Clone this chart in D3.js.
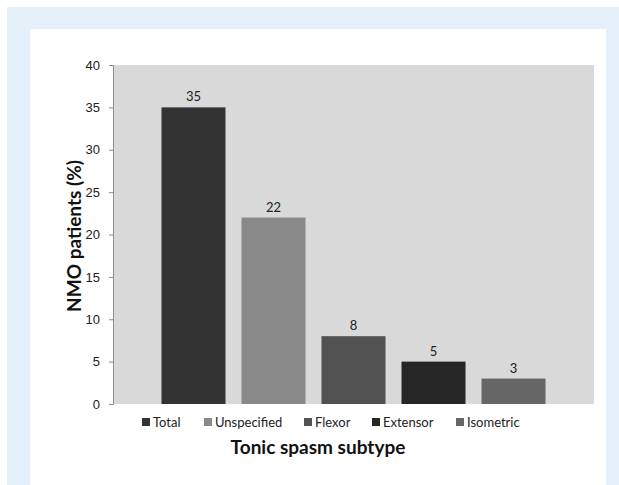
<!DOCTYPE html>
<html>
<head>
<meta charset="utf-8">
<script src="https://cdn.jsdelivr.net/npm/d3@7"></script>
<style>
  body { margin: 0; background: #fff; }
  svg { display: block; font-family: Lato, "Open Sans", sans-serif; }
</style>
</head>
<body>
<div id="chart"></div>
<script>
var svgWidth = 619, svgHeight = 485;

// data
var subtypes = ["Total", "Unspecified", "Flexor", "Extensor", "Isometric"];
var percents = [35, 22, 8, 5, 3];
var barColors = ["#333333", "#898989", "#525252", "#262626", "#666666"];
var yTicks = [0, 5, 10, 15, 20, 25, 30, 35, 40];

var svg = d3.select("#chart")
  .append("svg")
  .attr("width", svgWidth)
  .attr("height", svgHeight);

// light blue frame + white panel
svg.append("rect")
  .attr("x", 7).attr("y", 7)
  .attr("width", svgWidth - 7).attr("height", svgHeight - 7)
  .attr("fill", "#e6f0fa");
svg.append("rect")
  .attr("x", 30).attr("y", 29)
  .attr("width", 576).attr("height", svgHeight - 29)
  .attr("fill", "#ffffff");

var plot = {left: 113, right: 594, top: 65, bottom: 404};

var x = d3.scaleBand()
  .domain(subtypes)
  .range([plot.left, plot.right])
  .paddingInner(0.2)
  .paddingOuter(0.606);

var y = d3.scaleLinear()
  .domain([0, 40])
  .range([plot.bottom, plot.top]);

// plot area background
svg.append("rect")
  .attr("x", plot.left).attr("y", plot.top)
  .attr("width", plot.right - plot.left)
  .attr("height", plot.bottom - plot.top)
  .attr("fill", "#d9d9d9");

// y axis
var yAxis = svg.append("g")
  .attr("transform", "translate(" + plot.left + ",0)")
  .call(d3.axisLeft(y).tickValues(yTicks).tickSize(4).tickPadding(9));
yAxis.select(".domain").attr("stroke", "#8c8c8c");
yAxis.selectAll(".tick line").attr("stroke", "#8c8c8c");
yAxis.selectAll(".tick text")
  .attr("fill", "#222")
  .style("font-size", "13px");

// bars
var groups = svg.selectAll("g.bar")
  .data(subtypes)
  .enter()
  .append("g")
  .attr("class", "bar");

groups.append("rect")
  .attr("x", d => x(d))
  .attr("y", (d, i) => y(percents[i]))
  .attr("width", x.bandwidth())
  .attr("height", (d, i) => y(0) - y(percents[i]))
  .attr("fill", (d, i) => barColors[i]);

groups.append("text")
  .text((d, i) => percents[i])
  .attr("x", d => x(d) + x.bandwidth() / 2)
  .attr("y", (d, i) => y(percents[i]) - 6)
  .attr("text-anchor", "middle")
  .attr("fill", "#222")
  .style("font-size", "13px");

// legend
var legendX = [142, 204, 304, 372, 456];
var legend = svg.selectAll("g.legend")
  .data(subtypes)
  .enter()
  .append("g")
  .attr("class", "legend")
  .attr("transform", (d, i) => "translate(" + legendX[i] + ",422)");

legend.append("rect")
  .attr("x", 0).attr("y", -4)
  .attr("width", 8).attr("height", 8)
  .attr("fill", (d, i) => barColors[i]);

legend.append("text")
  .text(d => d)
  .attr("x", 11)
  .attr("y", 4.5)
  .attr("fill", "#222")
  .style("font-size", "13px");

// axis titles
svg.append("text")
  .text("Tonic spasm subtype")
  .attr("x", 318)
  .attr("y", 454)
  .attr("text-anchor", "middle")
  .attr("fill", "#111")
  .style("font-size", "19px")
  .style("font-weight", "bold");

svg.append("text")
  .text("NMO patients (%)")
  .attr("transform", "translate(81,236) rotate(-90)")
  .attr("text-anchor", "middle")
  .attr("fill", "#111")
  .style("font-size", "19px")
  .style("font-weight", "bold");
</script>
</body>
</html>
